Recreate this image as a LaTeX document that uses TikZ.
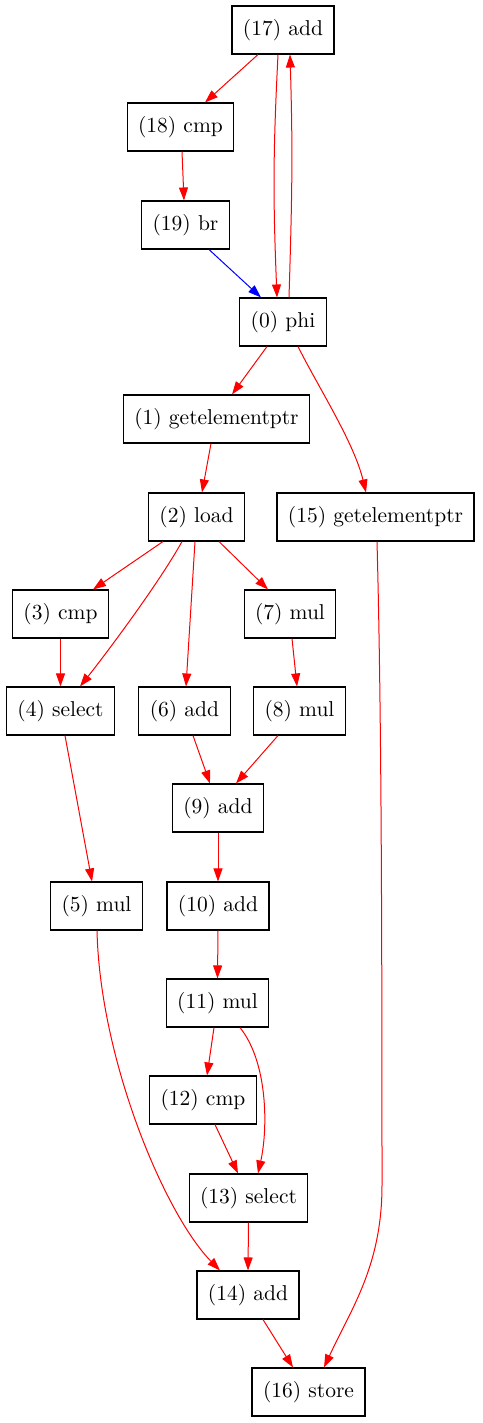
\documentclass[tikz,border=0pt]{standalone}
\usepackage{fontspec}
\setmainfont{lmroman10-regular.otf}
\usetikzlibrary{arrows.meta}
\begin{document}
\begin{tikzpicture}[x=1pt, y=-1pt,
    instr/.style={draw, rectangle, line width=1.1pt, minimum height=48pt, inner xsep=11pt, font=\fontsize{21.5}{24}\selectfont},
    dep/.style={red, line width=1pt, -{Triangle[length=13pt,width=9pt]}},
    ctrl/.style={blue, line width=1pt, -{Triangle[length=13pt,width=9pt]}}]
    \useasboundingbox (0,0) rectangle (482,1423); % marco del dibujo
    \node[instr] (n17) at (283,30) {(17) add}; % fila superior
    \node[instr] (n18) at (180.5,127) {(18) cmp};
    \node[instr] (n19) at (185.5,225) {(19) br};
    \node[instr] (n0) at (283,322) {(0) phi};
    \node[instr] (n1) at (216.5,419) {(1) getelementptr};
    \node[instr] (n2) at (196.5,517) {(2) load};
    \node[instr] (n15) at (375.5,517) {(15) getelementptr};
    \node[instr] (n3) at (60.5,614) {(3) cmp};
    \node[instr] (n7) at (290,614) {(7) mul};
    \node[instr] (n4) at (60.5,711) {(4) select};
    \node[instr] (n6) at (184.5,711) {(6) add};
    \node[instr] (n8) at (299.5,711) {(8) mul};
    \node[instr] (n9) at (218,808) {(9) add};
    \node[instr] (n5) at (96.5,906) {(5) mul};
    \node[instr] (n10) at (218,906) {(10) add};
    \node[instr] (n11) at (217.5,1003) {(11) mul};
    \node[instr] (n12) at (203,1100) {(12) cmp};
    \node[instr] (n13) at (248.5,1198) {(13) select};
    \node[instr] (n14) at (248,1295) {(14) add};
    \node[instr] (n16) at (308.5,1392) {(16) store}; % fila inferior
    \coordinate (bend15) at (382,1185); % codo de la arista larga
    \draw[dep] ([xshift=-25pt]n17.south) -- ([xshift=24.5pt]n18.north);
    \draw[dep] ([xshift=-5pt]n17.south) .. controls +(-5,100) and +(-4,-100) .. ([xshift=-6pt]n0.north); % ida
    \draw[dep] ([xshift=6pt]n0.north) .. controls +(3,-100) and +(3,100) .. ([xshift=7pt]n17.south); % vuelta
    \draw[dep] ([xshift=1.5pt]n18.south) -- ([xshift=-1.5pt]n19.north);
    \draw[ctrl] ([xshift=23.5pt]n19.south) -- ([xshift=-22pt]n0.north); % salto
    \draw[dep] ([xshift=-16pt]n0.south) -- ([xshift=15.5pt]n1.north);
    \draw[dep] ([xshift=15pt]n0.south) .. controls +(20,40) and +(-12,-50) .. ([xshift=-9.5pt]n15.north);
    \draw[dep] ([xshift=-5.5pt]n1.south) -- ([xshift=5.5pt]n2.north);
    \draw[dep] ([xshift=-33.5pt]n2.south) -- ([xshift=32.5pt]n3.north);
    \draw[dep] ([xshift=-14.5pt]n2.south) .. controls +(-25,45) and +(20,-25) .. ([xshift=19.5pt]n4.north);
    \draw[dep] ([xshift=-1.5pt]n2.south) -- ([xshift=1.5pt]n6.north);
    \draw[dep] ([xshift=22.5pt]n2.south) -- ([xshift=-22pt]n7.north);
    \draw[dep] (n3.south) -- (n4.north);
    \draw[dep] ([xshift=2pt]n7.south) -- ([xshift=-2.5pt]n8.north);
    \draw[dep] ([xshift=4.5pt]n4.south) -- ([xshift=-4.5pt]n5.north);
    \draw[dep] ([xshift=8.5pt]n6.south) -- ([xshift=-8pt]n9.north);
    \draw[dep] ([xshift=-21.5pt]n8.south) -- ([xshift=18pt]n9.north);
    \draw[dep] (n9.south) -- (n10.north);
    \draw[dep] (n10.south) -- (n11.north);
    \draw[dep] ([xshift=-3.5pt]n11.south) -- ([xshift=4pt]n12.north);
    \draw[dep] ([xshift=22.5pt]n11.south) .. controls +(28,35) and +(10,-45) .. ([xshift=9.5pt]n13.north);
    \draw[dep] ([xshift=12pt]n12.south) -- ([xshift=-10.5pt]n13.north);
    \draw[dep] ([xshift=0.5pt]n5.south) .. controls +(3,130) and +(-55,-56) .. ([xshift=-28pt]n14.north);
    \draw[dep] (n13.south) -- (n14.north);
    \draw[dep] ([xshift=15pt]n14.south) -- ([xshift=-15.5pt]n16.north);
    \draw[dep] ([xshift=1.5pt]n15.south) .. controls +(4,150) and +(0,-300) .. (bend15) .. controls +(0,80) and +(28,-60) .. ([xshift=15.5pt]n16.north);
\end{tikzpicture}
\end{document}
